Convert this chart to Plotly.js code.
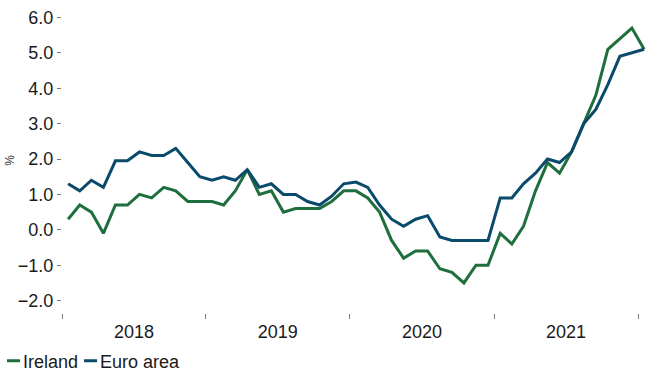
<!DOCTYPE html>
<html>
<head>
<meta charset="utf-8">
<script src="https://cdn.plot.ly/plotly-3.0.1.min.js"></script>
<style>html,body{margin:0;padding:0;background:#fff;}#chart{width:646px;height:371px;}</style>
</head>
<body>
<div id="chart"></div>
<script>
const months = [
  '2018-01','2018-02','2018-03','2018-04','2018-05','2018-06','2018-07','2018-08','2018-09','2018-10','2018-11','2018-12',
  '2019-01','2019-02','2019-03','2019-04','2019-05','2019-06','2019-07','2019-08','2019-09','2019-10','2019-11','2019-12',
  '2020-01','2020-02','2020-03','2020-04','2020-05','2020-06','2020-07','2020-08','2020-09','2020-10','2020-11','2020-12',
  '2021-01','2021-02','2021-03','2021-04','2021-05','2021-06','2021-07','2021-08','2021-09','2021-10','2021-11','2021-12',
  '2022-01'
];
const ireland = [
  0.3, 0.7, 0.5, -0.1, 0.7, 0.7, 1.0, 0.9, 1.2, 1.1, 0.8, 0.8,
  0.8, 0.7, 1.1, 1.7, 1.0, 1.1, 0.5, 0.6, 0.6, 0.6, 0.8, 1.1,
  1.1, 0.9, 0.5, -0.3, -0.8, -0.6, -0.6, -1.1, -1.2, -1.5, -1.0, -1.0,
  -0.1, -0.4, 0.1, 1.1, 1.9, 1.6, 2.2, 3.0, 3.8, 5.1, 5.4, 5.7,
  5.1
];
const euroArea = [
  1.3, 1.1, 1.4, 1.2, 1.95, 1.95, 2.2, 2.1, 2.1, 2.3, 1.9, 1.5,
  1.4, 1.5, 1.4, 1.7, 1.2, 1.3, 1.0, 1.0, 0.8, 0.7, 0.95, 1.3,
  1.35, 1.2, 0.7, 0.3, 0.1, 0.3, 0.4, -0.2, -0.3, -0.3, -0.3, -0.3,
  0.9, 0.9, 1.3, 1.6, 2.0, 1.9, 2.2, 3.0, 3.4, 4.1, 4.9, 5.0,
  5.1
];
const yTicks = [-2, -1, 0, 1, 2, 3, 4, 5, 6];

const font = {family: '"Liberation Sans", Arial, sans-serif', size: 18, color: '#1a1a1a'};

const traces = [
  {x: months, y: ireland, name: 'Ireland', type: 'scatter', mode: 'lines',
   xperiod: 'M1', xperiodalignment: 'middle',
   line: {color: '#1f6e3d', width: 3}},
  {x: months, y: euroArea, name: 'Euro area', type: 'scatter', mode: 'lines',
   xperiod: 'M1', xperiodalignment: 'middle',
   line: {color: '#0a4a6a', width: 3}}
];

const layout = {
  width: 646, height: 371,
  margin: {l: 62, r: 0, t: 8, b: 58, pad: 0, autoexpand: false},
  paper_bgcolor: '#fff', plot_bgcolor: '#fff',
  font: font,
  showlegend: true,
  legend: {orientation: 'h', x: -62/584, xanchor: 'left', y: -(361-313)/305, yanchor: 'middle',
           font: font, itemwidth: 30, tracegroupgap: 0, bgcolor: 'rgba(0,0,0,0)', borderwidth: 0},
  xaxis: {
    type: 'date',
    range: ['2018-01-01', '2022-01-21 07:00'],
    tick0: '2018-01-01', dtick: 'M12', tickformat: '%Y', ticklabelmode: 'period',
    ticks: 'outside', ticklen: 5, tickcolor: '#777', tickwidth: 1,
    ticklabelstandoff: -3,
    showgrid: false, zeroline: false, showline: false,
    tickfont: font
  },
  yaxis: {
    range: [-2.35, 6.266],
    tickvals: yTicks, tickformat: '.1f',
    ticks: 'outside', ticklen: 4, tickcolor: '#777', tickwidth: 1,
    showgrid: false, zeroline: false, showline: false,
    tickfont: font,
    title: {text: '%', font: {family: font.family, size: 12, color: '#333'}, standoff: 0}
  }
};

const gd = document.getElementById('chart');
Plotly.newPlot(gd, traces, layout, {displayModeBar: false, staticPlot: true}).then(function () {
  // compact legend: short line swatches like the reference
  const items = gd.querySelectorAll('.legend .traces');
  let cursor = 7;
  items.forEach(function (item) {
    const path = item.querySelector('.legendlines path');
    const text = item.querySelector('.legendtext');
    if (path) path.setAttribute('d', 'M0,0h13');
    if (text) text.setAttribute('x', 16);
    const tr = item.getAttribute('transform') || 'translate(0,0)';
    const mm = tr.match(/translate\(\s*([-\d.e]+)[ ,]+([-\d.e]+)\s*\)/);
    const tx = mm ? parseFloat(mm[1]) : 0;
    const ty = mm ? parseFloat(mm[2]) : 0;
    const ctm = item.getCTM();
    const curX = ctm ? ctm.e : tx;
    item.setAttribute('transform', 'translate(' + (tx + cursor - curX) + ',' + ty + ')');
    cursor += 16 + (text ? text.getComputedTextLength() : 0) + 6;
  });
});
</script>
</body>
</html>
